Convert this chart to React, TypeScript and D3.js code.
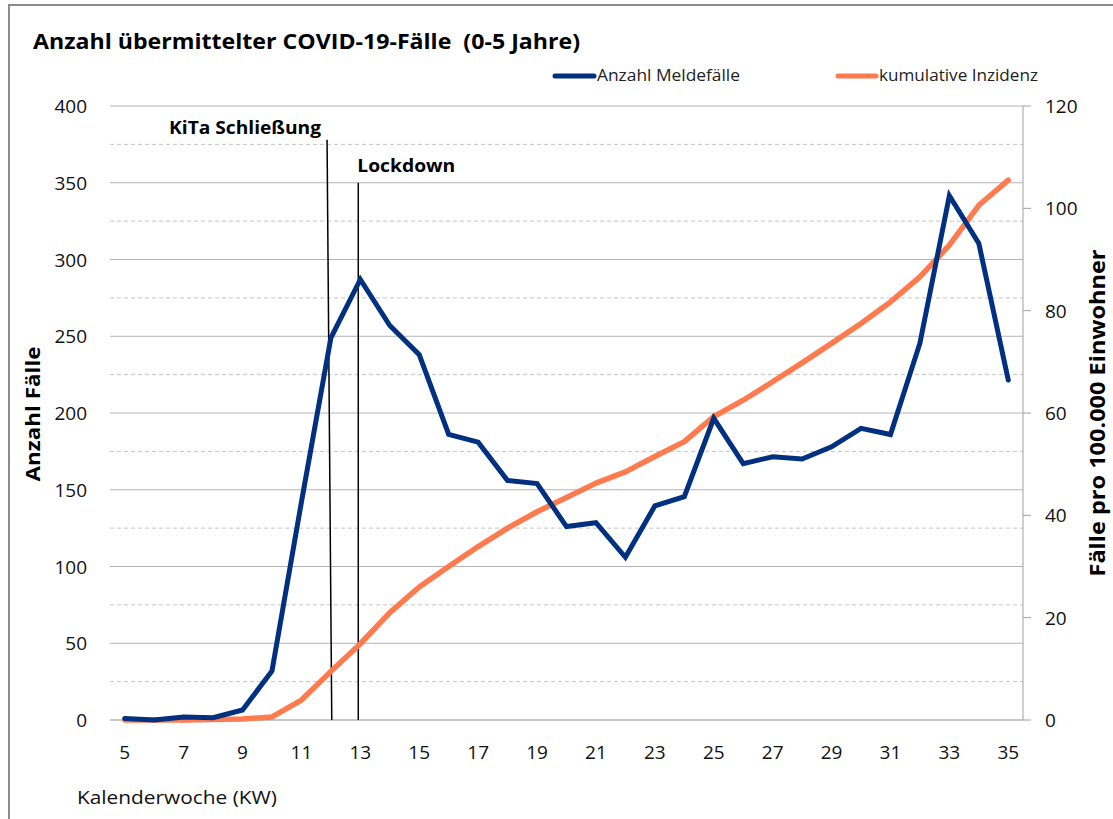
import React from "react";
import * as d3 from "d3";

// Kalenderwochen 5..35
const weeks = d3.range(5, 36);

// Anzahl Meldefälle (linke Achse)
const meldefaelle = [
  1, 0, 2, 1.5, 6.5, 32, 142, 249, 287, 257, 238, 186, 181, 156, 154, 126,
  128.5, 106, 139.5, 145.5, 196.5, 167, 171.5, 170, 178, 190, 186, 245.5, 341.5,
  310.5, 221.5,
];

// kumulative Inzidenz pro 100.000 (rechte Achse)
const inzidenz = [
  0, 0, 0, 0.1, 0.2, 0.6, 3.9, 9.5, 14.9, 21, 26, 30, 33.9, 37.5, 40.7, 43.5,
  46.3, 48.5, 51.5, 54.4, 59.3, 62.5, 66.1, 69.8, 73.6, 77.5, 81.7, 86.6, 92.8,
  100.6, 105.5,
];

const leftTicks = [0, 50, 100, 150, 200, 250, 300, 350, 400];
const leftMinor = [25, 75, 125, 175, 225, 275, 325, 375];
const rightTicks = [0, 20, 40, 60, 80, 100, 120];
const xTicks = [5, 7, 9, 11, 13, 15, 17, 19, 21, 23, 25, 27, 29, 31, 33, 35];

// Ereignisse: Woche oben/unten und Höhe (linke Achse)
const events = [
  { label: "KiTa Schließung", weekTop: 11.87, weekBottom: 12.03, top: 378 },
  { label: "Lockdown", weekTop: 12.93, weekBottom: 12.93, top: 350 },
];

const series = [
  { name: "Anzahl Meldefälle", color: "#00307f" },
  { name: "kumulative Inzidenz", color: "#ff7b4e" },
];

const width = 1113;
const height = 819;
const plot = { left: 110, right: 1023, top: 106, bottom: 720 };
const font = "'Open Sans', 'Noto Sans', sans-serif";
const fit = "spacingAndGlyphs";

export default function App() {
  const x = d3.scaleLinear().domain([4.5, 35.5]).range([plot.left, plot.right]);
  const yL = d3.scaleLinear().domain([0, 400]).range([plot.bottom, plot.top]);
  const yR = d3.scaleLinear().domain([0, 120]).range([plot.bottom, plot.top]);

  const lineL = d3
    .line<number>()
    .x((_, i) => x(weeks[i]))
    .y((d) => yL(d));
  const lineR = d3
    .line<number>()
    .x((_, i) => x(weeks[i]))
    .y((d) => yR(d));

  return (
    <svg
      width={width}
      height={height}
      style={{ position: "absolute", left: 0, top: 0, background: "#fff" }}
      fontFamily={font}
    >
      <rect x={9} y={5} width={1140} height={850} fill="#fff" stroke="#8c8c8c" strokeWidth={2} />

      {/* Titel */}
      <text x={33} y={49} fontSize={21} fontWeight="bold" fill="#000" textLength={547} lengthAdjust={fit}>
        Anzahl übermittelter COVID-19-Fälle{"\u00a0\u00a0"}(0-5 Jahre)
      </text>

      {/* Legende */}
      <line x1={555} x2={594} y1={76} y2={76} stroke={series[0].color} strokeWidth={5} strokeLinecap="round" />
      <text x={597} y={81} fontSize={16} fill="#222" textLength={143} lengthAdjust={fit}>{series[0].name}</text>
      <line x1={838} x2={876} y1={76} y2={76} stroke={series[1].color} strokeWidth={5} strokeLinecap="round" />
      <text x={879} y={81} fontSize={16} fill="#222" textLength={159} lengthAdjust={fit}>{series[1].name}</text>

      {/* Gitter */}
      {leftMinor.map((v) => (
        <line key={"m" + v} x1={plot.left} x2={plot.right} y1={yL(v)} y2={yL(v)} stroke="#c4c4c4" strokeWidth={1} strokeDasharray="4,3" />
      ))}
      {leftTicks.map((v) => (
        <line key={"g" + v} x1={plot.left} x2={plot.right} y1={yL(v)} y2={yL(v)} stroke={v === 0 ? "#c8c8c8" : "#b4b4b4"} strokeWidth={v === 0 ? 2 : 1} />
      ))}

      {/* linke Achse */}
      {leftTicks.map((v) => (
        <text key={"l" + v} x={87} y={yL(v) + 7} textAnchor="end" fontSize={19} fill="#111">{v}</text>
      ))}
      <text transform={`translate(40,414) rotate(-90)`} textAnchor="middle" fontSize={20} fontWeight="bold" fill="#000" textLength={135} lengthAdjust={fit}>
        Anzahl Fälle
      </text>

      {/* rechte Achse */}
      <line x1={plot.right} x2={plot.right} y1={plot.top} y2={plot.bottom} stroke="#a0a0a0" strokeWidth={1} />
      {rightTicks.map((v) => (
        <g key={"r" + v}>
          <line x1={plot.right} x2={plot.right + 8} y1={yR(v)} y2={yR(v)} stroke="#a0a0a0" strokeWidth={1} />
          <text x={1045} y={yR(v) + 7} fontSize={19} fill="#111">{v}</text>
        </g>
      ))}
      <text transform={`translate(1105,413) rotate(-90)`} textAnchor="middle" fontSize={21} fontWeight="bold" fill="#000" textLength={327} lengthAdjust={fit}>
        Fälle pro 100.000 Einwohner
      </text>

      {/* x-Achse */}
      {xTicks.map((w) => (
        <text key={"x" + w} x={x(w)} y={759} textAnchor="middle" fontSize={19} fill="#111">{w}</text>
      ))}
      <text x={77} y={804} fontSize={18} fill="#111" textLength={200} lengthAdjust={fit}>Kalenderwoche (KW)</text>

      {/* Ereignisse */}
      {events.map((e) => (
        <line key={e.label} x1={x(e.weekTop)} x2={x(e.weekBottom)} y1={yL(e.top)} y2={plot.bottom} stroke="#000" strokeWidth={1.5} />
      ))}
      <text x={x(events[0].weekTop) - 158} y={134} fontSize={18} fontWeight="bold" fill="#000" textLength={152} lengthAdjust={fit}>
        {events[0].label}
      </text>
      <text x={x(events[1].weekTop) - 1} y={172} fontSize={18} fontWeight="bold" fill="#000" textLength={98} lengthAdjust={fit}>
        {events[1].label}
      </text>

      {/* Linien */}
      <path d={lineR(inzidenz) ?? ""} fill="none" stroke={series[1].color} strokeWidth={5.5} strokeLinejoin="round" strokeLinecap="round" />
      <path d={lineL(meldefaelle) ?? ""} fill="none" stroke={series[0].color} strokeWidth={5} strokeLinejoin="miter" strokeLinecap="round" />
    </svg>
  );
}
